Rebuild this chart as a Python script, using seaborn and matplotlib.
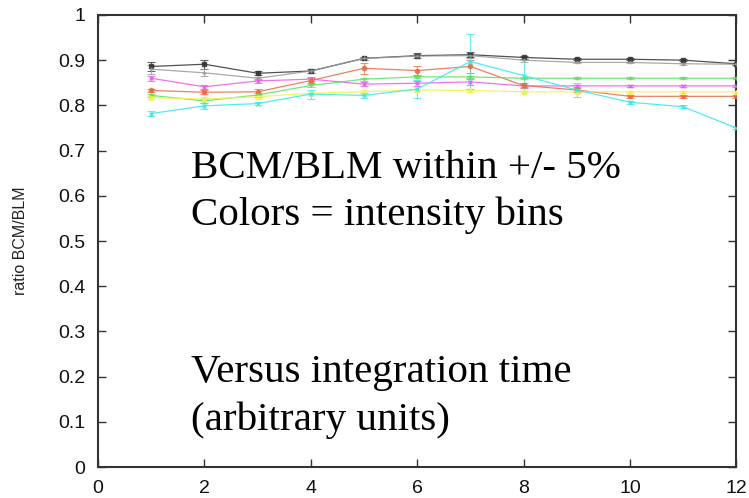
import matplotlib
matplotlib.use("Agg")
import matplotlib.pyplot as plt
import seaborn as sns
import pandas as pd
import numpy as np

# ---- data ----
x_vals = [1, 2, 3, 4, 5, 6, 7, 8, 9, 10, 11, 12]
black   = [0.886, 0.891, 0.871, 0.876, 0.904, 0.910, 0.912, 0.906, 0.902, 0.902, 0.900, 0.892]
gray    = [0.880, 0.872, 0.860, 0.876, 0.904, 0.909, 0.910, 0.900, 0.895, 0.895, 0.892, 0.891]
magenta = [0.860, 0.841, 0.854, 0.858, 0.847, 0.849, 0.852, 0.843, 0.843, 0.843, 0.843, 0.843]
red     = [0.833, 0.829, 0.830, 0.855, 0.882, 0.877, 0.886, 0.844, 0.834, 0.820, 0.820, 0.820]
green   = [0.822, 0.810, 0.823, 0.844, 0.858, 0.863, 0.863, 0.860, 0.860, 0.860, 0.860, 0.860]
yellow  = [0.817, 0.814, 0.819, 0.827, 0.830, 0.834, 0.833, 0.830, 0.830, 0.830, 0.830, 0.830]
cyan    = [0.782, 0.799, 0.804, 0.825, 0.822, 0.836, 0.897, 0.866, 0.834, 0.807, 0.797, 0.750]

err_black   = [0.010, 0.010, 0.004, 0.004, 0.003, 0.006, 0.005, 0.004, 0.002, 0.002, 0.002, 0.002]
err_gray    = [0.010, 0.008, 0.003, 0.004, 0.003, 0.005, 0.005, 0.003, 0.002, 0.002, 0.002, 0.002]
err_magenta = [0.005, 0.004, 0.005, 0.005, 0.004, 0.006, 0.006, 0.003, 0.002, 0.002, 0.002, 0.002]
err_red     = [0.004, 0.004, 0.006, 0.006, 0.012, 0.010, 0.015, 0.006, 0.004, 0.003, 0.003, 0.003]
err_green   = [0.004, 0.004, 0.004, 0.004, 0.003, 0.003, 0.003, 0.002, 0.002, 0.002, 0.002, 0.002]
err_yellow  = [0.004, 0.004, 0.004, 0.004, 0.003, 0.003, 0.003, 0.002, 0.002, 0.002, 0.002, 0.002]
err_cyan    = [0.006, 0.006, 0.004, 0.010, 0.006, 0.020, 0.060, 0.035, 0.015, 0.003, 0.003, 0.003]

series_names = ["black", "gray", "magenta", "red", "green", "yellow", "cyan"]
series_vals = [black, gray, magenta, red, green, yellow, cyan]
series_errs = [err_black, err_gray, err_magenta, err_red, err_green, err_yellow, err_cyan]
palette = {"black": "#333333", "gray": "#9a9a9a", "magenta": "#ec5cec",
           "red": "#ec6a44", "green": "#5ee05e", "yellow": "#f2f24a",
           "cyan": "#33eaea"}
markers = {"black": "s", "gray": "+", "magenta": "x", "red": "o",
           "green": "+", "yellow": "^", "cyan": "x"}

xticks = [0, 2, 4, 6, 8, 10, 12]
yticks = [0, 0.1, 0.2, 0.3, 0.4, 0.5, 0.6, 0.7, 0.8, 0.9, 1]
ytick_labels = ["0", "0.1", "0.2", "0.3", "0.4", "0.5", "0.6", "0.7", "0.8", "0.9", "1"]
ylabel = "ratio BCM/BLM"
texts = ["BCM/BLM within +/- 5%", "Colors = intensity bins",
         "Versus integration time", "(arbitrary units)"]

rows = []
for name, vals, errs in zip(series_names, series_vals, series_errs):
    for xv, yv, ev in zip(x_vals, vals, errs):
        rows.append({"x": xv, "y": yv, "err": ev, "series": name})
df = pd.DataFrame(rows)

sns.set_style("white")
plt.rcParams["font.family"] = ["Liberation Sans", "DejaVu Sans"]

fig = plt.figure(figsize=(7.49, 4.98), dpi=100)
ax = fig.add_axes([0.131, 0.062, 0.852, 0.908])

for name in series_names:
    sub = df[df["series"] == name]
    ax.errorbar(sub["x"], sub["y"], yerr=sub["err"], fmt="none",
                ecolor=palette[name], elinewidth=0.8, capsize=3, capthick=0.8,
                alpha=0.75, zorder=2)
    sns.lineplot(data=sub, x="x", y="y", color=palette[name],
                 marker=markers[name], markersize=3, markeredgewidth=1.0,
                 markeredgecolor=palette[name],
                 linewidth=0.9, legend=False, ax=ax, alpha=0.85, zorder=3)

ax.set_xlim(0, 12)
ax.set_ylim(0, 1)
ax.set_xticks(xticks)
ax.set_xticklabels([str(t) for t in xticks])
ax.set_yticks(yticks)
ax.set_yticklabels(ytick_labels)
ax.set_xlabel("")
ax.set_ylabel(ylabel, fontsize=11.5, color="#222222", labelpad=22)
ax.tick_params(direction="in", length=6, width=1, colors="#333333",
               labelsize=14, labelcolor="#111111",
               top=True, right=True, bottom=True, left=True, pad=9)
for sp in ax.spines.values():
    sp.set_visible(True)
    sp.set_color("#333333")
    sp.set_linewidth(1.5)

serif = ["Liberation Serif", "DejaVu Serif"]
fs = 29.5
ax.text(1.74, 0.639, texts[0], family=serif, fontsize=fs, va="baseline", color="black")
ax.text(1.74, 0.535, texts[1], family=serif, fontsize=fs, va="baseline", color="black")
ax.text(1.74, 0.189, texts[2], family=serif, fontsize=fs, va="baseline", color="black")
ax.text(1.74, 0.082, texts[3], family=serif, fontsize=fs, va="baseline", color="black")

fig.savefig("out.png", dpi=100)
